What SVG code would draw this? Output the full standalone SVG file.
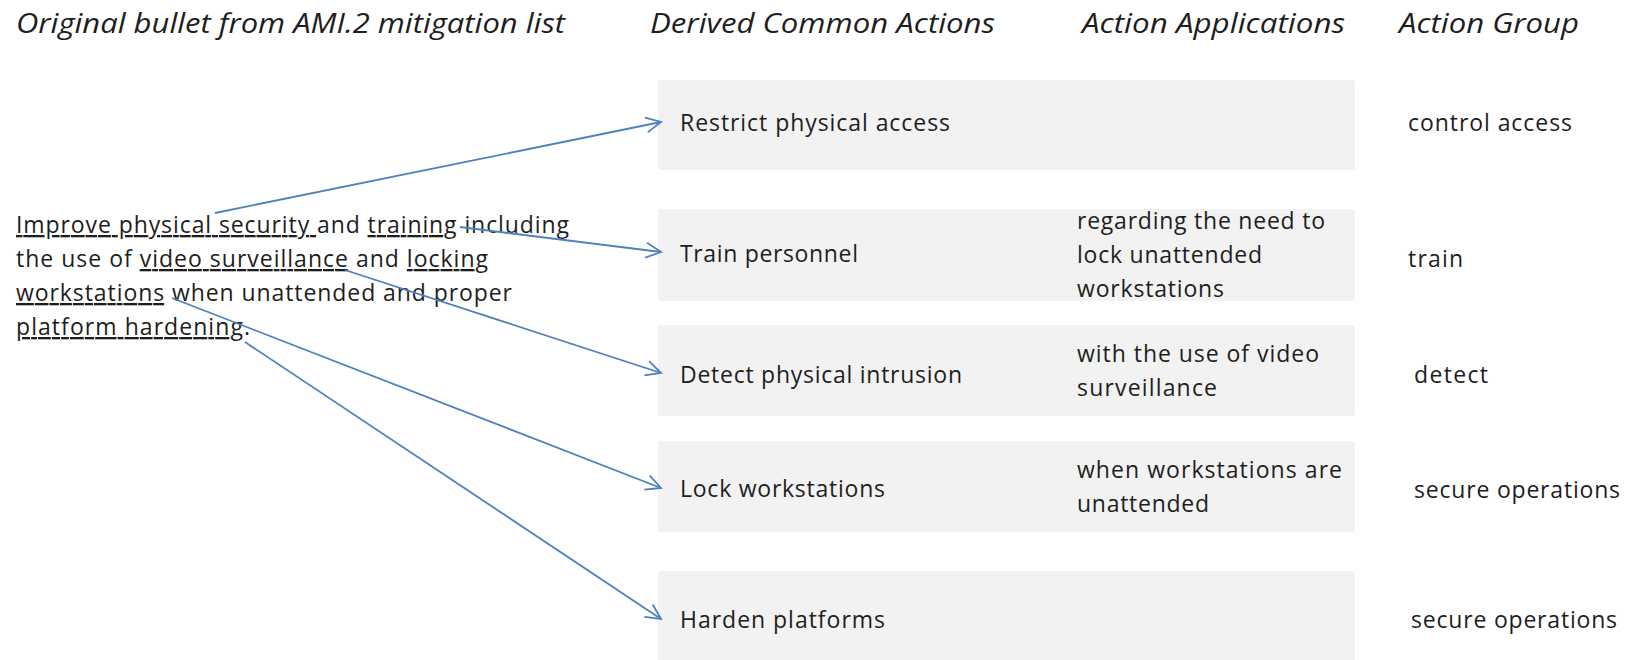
<svg xmlns="http://www.w3.org/2000/svg" width="1631" height="660" viewBox="0 0 1631 660">
<style>
.hd{font-family:"Open Sans","Liberation Sans",sans-serif;font-style:italic;font-size:28px;fill:#1e1e1e}
.tx{font-family:"Open Sans","Liberation Sans",sans-serif;font-size:23px;fill:#1e1e1e}
.u{text-decoration:underline}
.box{fill:#f2f2f2}
.arr{stroke:#4f81bd;stroke-width:1.8;fill:none;marker-end:url(#ah)}
</style>
<defs>
<marker id="ah" markerUnits="userSpaceOnUse" markerWidth="20" markerHeight="20" viewBox="-16 -10 20 20" refX="0" refY="0" orient="auto">
<path d="M-15,-7.5 L0,0 L-15,7.5" fill="none" stroke="#4f81bd" stroke-width="1.8" stroke-linejoin="miter"/>
</marker>
</defs>
<rect width="1631" height="660" fill="#ffffff"/>
<g id="headers">
<text class="hd" x="16" y="33" textLength="549" lengthAdjust="spacingAndGlyphs">Original bullet from AMI.2 mitigation list</text>
<text class="hd" x="650" y="33" textLength="345" lengthAdjust="spacingAndGlyphs">Derived Common Actions</text>
<text class="hd" x="1082" y="33" textLength="263" lengthAdjust="spacingAndGlyphs">Action Applications</text>
<text class="hd" x="1399" y="33" textLength="180" lengthAdjust="spacingAndGlyphs">Action Group</text>
</g>
<g id="source">
<text class="tx" x="16" y="233" textLength="553"><tspan class="u">Improve physical security </tspan>and <tspan class="u">training</tspan> including</text>
<text class="tx" x="16" y="267" textLength="472">the use of <tspan class="u">video surveillance</tspan> and <tspan class="u">locking</tspan></text>
<text class="tx" x="16" y="301" textLength="496"><tspan class="u">workstations</tspan> when unattended and proper</text>
<text class="tx" x="16" y="335" textLength="234"><tspan class="u">platform hardening</tspan>.</text>
</g>
<g id="row1">
<rect class="box" x="658" y="80" width="697" height="90" rx="3"/>
<text class="tx" x="680" y="131" textLength="270">Restrict physical access</text>
<text class="tx" x="1408" y="131" textLength="164">control access</text>
</g>
<g id="row2">
<rect class="box" x="658" y="209" width="697" height="92" rx="3"/>
<text class="tx" x="680" y="262" textLength="178">Train personnel</text>
<text class="tx" x="1077" y="229" textLength="248">regarding the need to</text>
<text class="tx" x="1077" y="263" textLength="185">lock unattended</text>
<text class="tx" x="1077" y="297" textLength="147">workstations</text>
<text class="tx" x="1408" y="267" textLength="55">train</text>
</g>
<g id="row3">
<rect class="box" x="658" y="325" width="697" height="91" rx="3"/>
<text class="tx" x="680" y="383" textLength="282">Detect physical intrusion</text>
<text class="tx" x="1077" y="362" textLength="242">with the use of video</text>
<text class="tx" x="1077" y="396" textLength="140">surveillance</text>
<text class="tx" x="1414" y="383" textLength="74">detect</text>
</g>
<g id="row4">
<rect class="box" x="658" y="441" width="697" height="91" rx="3"/>
<text class="tx" x="680" y="497" textLength="205">Lock workstations</text>
<text class="tx" x="1077" y="478" textLength="265">when workstations are</text>
<text class="tx" x="1077" y="512" textLength="132">unattended</text>
<text class="tx" x="1414" y="498" textLength="206">secure operations</text>
</g>
<g id="row5">
<rect class="box" x="658" y="571" width="697" height="95" rx="3"/>
<text class="tx" x="680" y="628" textLength="205">Harden platforms</text>
<text class="tx" x="1411" y="628" textLength="206">secure operations</text>
</g>
<g id="connectors">
<line class="arr" x1="215" y1="213" x2="661" y2="122"/>
<line class="arr" x1="460" y1="227" x2="661" y2="252"/>
<line class="arr" x1="345" y1="270" x2="661" y2="373"/>
<line class="arr" x1="172" y1="298" x2="661" y2="488"/>
<line class="arr" x1="245" y1="342" x2="661" y2="619"/>
</g>
</svg>
